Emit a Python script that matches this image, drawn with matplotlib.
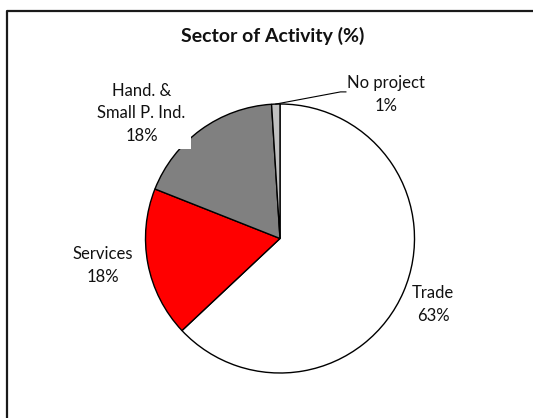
import matplotlib
matplotlib.use("Agg")
import matplotlib.pyplot as plt
from matplotlib.lines import Line2D
import numpy as np

plt.rcParams['font.family'] = ['Lato', 'DejaVu Sans']

# sector shares (%), clockwise from 12 o'clock
sectors = ['Trade', 'Services', 'Hand. &\nSmall P. Ind.', 'No project']
shares = [63, 18, 18, 1]
colors = ['#FFFFFF', '#FF0000', '#808080', '#C0C0C0']

# where each label sits, in pie units (radius = 1)
label_xy = [(1.14, -0.49), (-1.32, -0.20), (-1.03, 0.93), (0.79, 1.07)]

W, H = 533, 418
fig = plt.figure(figsize=(W / 100, H / 100), dpi=100)
ax = fig.add_axes([0, 0, 1, 1])

wedges, _ = ax.pie(shares, colors=colors, startangle=90, counterclock=False,
                   wedgeprops=dict(edgecolor='black', linewidth=1.0))

for name, val, (lx, ly) in zip(sectors, shares, label_xy):
    txt = ax.text(lx, ly, f"{name}\n{val}%", ha='center', va='center',
                  fontsize=12, color='#111111', linespacing=1.5, zorder=5)
    if name.startswith('Hand'):
        # label box is opaque and bites into the slice edge
        txt.set_bbox(dict(facecolor='white', edgecolor='none', pad=4))

# leader line for the thin "No project" slice
w = wedges[3]
mid = np.deg2rad((w.theta1 + w.theta2) / 2)
ax.plot([np.cos(mid), 0.45, 0.49], [np.sin(mid), 1.09, 1.09],
        color='black', linewidth=0.8, zorder=4)

# pixel-matched limits: centre at (280, 238.5), radius 134.5 px
r = 134.5
ax.set_xlim(-280 / r, (W - 280) / r)
ax.set_ylim(-(H - 238.5) / r, 238.5 / r)
ax.set_aspect('equal')
ax.axis('off')

fig.text(273 / W, 1 - 36 / H, 'Sector of Activity (%)', ha='center', va='center',
         fontsize=14, fontweight='bold', color='#111111')

# chart-area border: only the left and top edges fall inside the image
x0, y0 = 7 / W, 1 - 11 / H
fig.add_artist(Line2D([x0, x0, 1.02], [-0.02, y0, y0], color='#1a1a1a',
                      linewidth=1.6, transform=fig.transFigure))

fig.savefig('out.png', dpi=100, facecolor='white')
